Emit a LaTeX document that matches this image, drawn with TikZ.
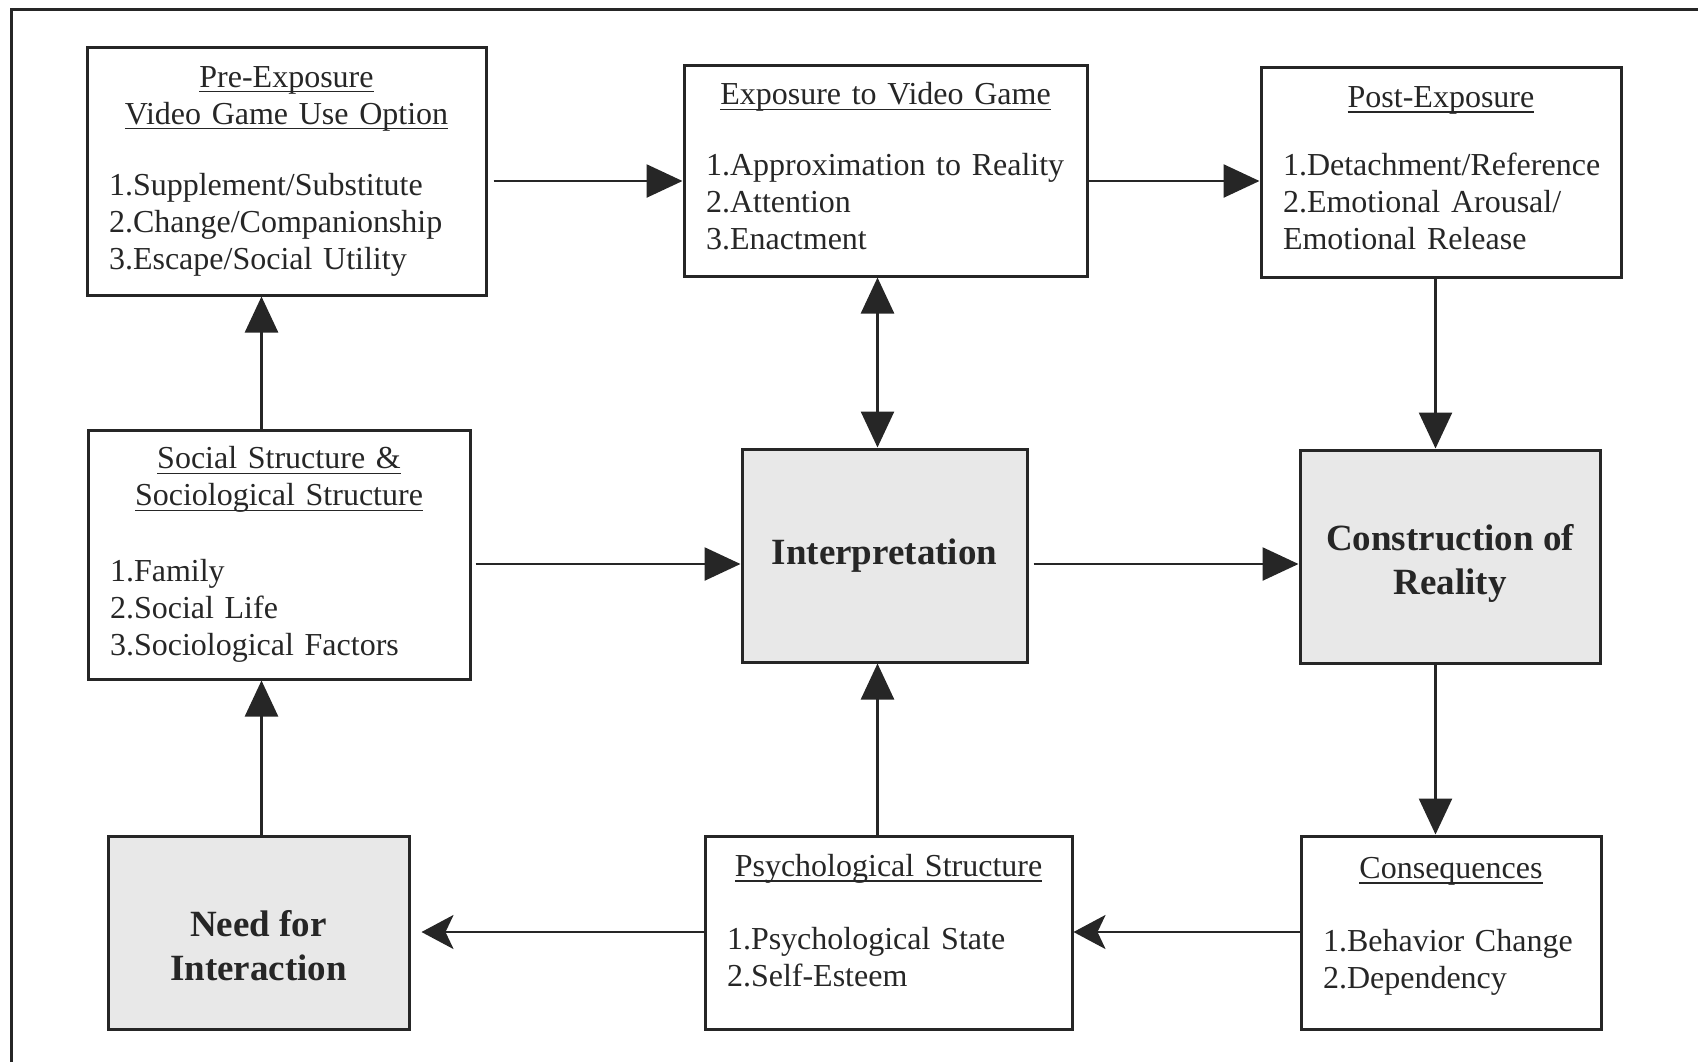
\documentclass[tikz,border=0pt]{standalone}
\usepackage{fontspec}
\setmainfont{Liberation Serif}
\usetikzlibrary{arrows.meta}

% underline that runs just below the baseline
\newcommand{\boxtitle}[1]{\leavevmode\setbox0\hbox{#1}\rlap{\rule[-2.6pt]{\wd0}{0.75pt}}\box0}
\newcommand{\boxheading}[2][17pt]{{\centering #2\par}\vspace{#1}}

\begin{document}
\begin{tikzpicture}[x=0.5pt,y=-0.5pt,
		>={Triangle[length=18pt,width=16.5pt]},
		listbox/.style={draw=black!85, line width=1.5pt, inner xsep=11pt, align=left, text=black!85,
			font=\fontsize{16pt}{18.5pt}\selectfont},
		keybox/.style={draw=black!85, line width=1.5pt, fill=black!9, align=center, text=black!85,
			font=\fontsize{18.5pt}{22pt}\selectfont\bfseries},
		flow/.style={draw=black!85, line width=1.3pt, ->},
		backflow/.style={draw=black!85, line width=1.3pt, -{Stealth[length=16pt,width=17pt,inset=4pt]}}]
		\useasboundingbox (0,0) rectangle (1698,1062);
		\draw[line width=1.5pt, draw=black!85] (11,1062) -- (11,9) -- (1698,9);

		\coordinate (pre) at (286.5,171);
		\coordinate (expo) at (885.5,170.5);
		\coordinate (post) at (1441,172);
		\coordinate (social) at (279,554.5);
		\coordinate (interp) at (884.5,555.5);
		\coordinate (construct) at (1450,556.5);
		\coordinate (need) at (258.5,932.5);
		\coordinate (psych) at (888.5,932.5);
		\coordinate (conseq) at (1451,932.5);

		% lanes of the connectors
		\coordinate (rowA) at (0,181);
		\coordinate (rowB) at (0,564);
		\coordinate (rowC) at (0,932);
		\coordinate (laneA) at (261.5,0);
		\coordinate (laneC) at (877.5,0);
		\coordinate (laneD) at (1435.5,0);

		\node[listbox, text width=177.5pt, minimum height=124pt] (preexposure) at (pre)
			{\boxheading{\boxtitle{Pre-Exposure}\\\boxtitle{Video Game Use Option}}
			1.Supplement/Substitute\\2.Change/Companionship\\3.Escape/Social Utility};
		\node[listbox, text width=179.5pt, minimum height=105.5pt] (exposure) at (expo)
			{\boxheading{\boxtitle{Exposure to Video Game}}
			1.Approximation to Reality\\2.Attention\\3.Enactment\par\vspace{4pt}};
		\node[listbox, text width=158pt, minimum height=105pt] (postexposure) at (post)
			{\boxheading[15.5pt]{\boxtitle{Post-Exposure}}
			1.Detachment/Reference\\2.Emotional Arousal/\\Emotional Release\par\vspace{4pt}};
		\node[listbox, text width=169pt, minimum height=124.5pt] (socialstructure) at (social)
			{\boxheading[19.2pt]{\boxtitle{Social Structure \&}\\\boxtitle{Sociological Structure}}
			1.Family\\2.Social Life\\3.Sociological Factors};
		\node[keybox, minimum width=142.5pt, minimum height=106.5pt] (interpretation) at (interp) {Interpretation};
		\node[keybox, minimum width=150pt, minimum height=106.5pt] (construction) at (construct)
			{\rule{0pt}{20pt}Construction of\\Reality};
		\node[keybox, minimum width=150.5pt, minimum height=96.5pt] (needinteraction) at (need)
			{\rule{0pt}{26pt}Need for\\Interaction};
		\node[listbox, text width=161.5pt, minimum height=96.5pt] (psychstructure) at (psych)
			{\boxheading[18pt]{\boxtitle{Psychological Structure}}
			1.Psychological State\\2.Self-Esteem\par\vspace{12pt}};
		\node[listbox, text width=128pt, minimum height=96.5pt] (consequences) at (conseq)
			{\boxheading[18pt]{\boxtitle{Consequences}}
			1.Behavior Change\\2.Dependency\par\vspace{6pt}};

		\draw[flow, shorten <=3pt] (preexposure.east |- rowA) -- (exposure.west |- rowA);
		\draw[flow] (exposure.east |- rowA) -- (postexposure.west |- rowA);
		\draw[flow, <->] (exposure.south -| laneC) -- (interpretation.north -| laneC);
		\draw[flow] (postexposure.south -| laneD) -- (construction.north -| laneD);
		\draw[flow] (socialstructure.north -| laneA) -- (preexposure.south -| laneA);
		\draw[flow, shorten <=2pt] (socialstructure.east |- rowB) -- (interpretation.west |- rowB);
		\draw[flow, shorten <=2.5pt] (interpretation.east |- rowB) -- (construction.west |- rowB);
		\draw[flow] (construction.south -| laneD) -- (consequences.north -| laneD);
		\draw[flow] (needinteraction.north -| laneA) -- (socialstructure.south -| laneA);
		\draw[flow] (psychstructure.north -| laneC) -- (interpretation.south -| laneC);
		\draw[backflow, shorten >=5.5pt] (psychstructure.west |- rowC) -- (needinteraction.east |- rowC);
		\draw[backflow] (consequences.west |- rowC) -- (psychstructure.east |- rowC);
	\end{tikzpicture}
\end{document}
